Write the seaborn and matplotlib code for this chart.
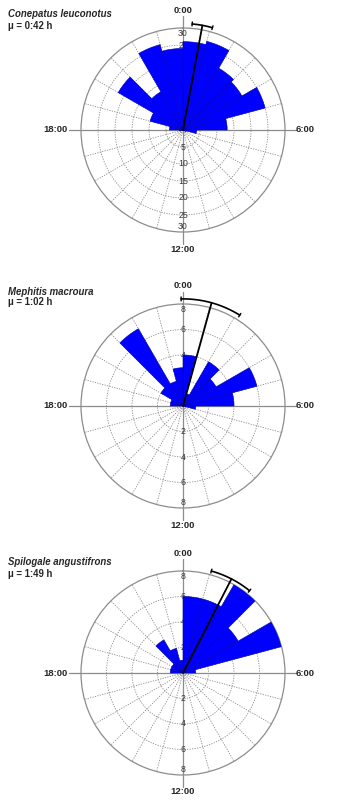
import numpy as np
import pandas as pd
import matplotlib
matplotlib.use('Agg')
import matplotlib.pyplot as plt
import seaborn as sns

# hourly record counts, bins 0:00-1:00 ... 23:00-24:00
hours = np.arange(24)
conepatus = [26, 27, 21, 20, 25, 13, 4, 1, 0, 0, 0, 0, 0, 0, 0, 0, 0, 1, 4, 10, 22, 13, 26, 24]
mephitis = [4, 1, 4, 3, 6, 4, 1, 0, 0, 0, 0, 0, 0, 0, 0, 0, 0, 0, 1, 1, 2, 7, 2, 3]
spilogale = [6, 6, 8, 5, 8, 1, 0, 0, 0, 0, 0, 0, 0, 0, 0, 0, 0, 0, 1, 1, 1, 3, 2, 1]

species = ['Conepatus leuconotus', 'Mephitis macroura', 'Spilogale angustifrons']
mean_labels = ['0:42', '1:02', '1:49']
mean_hours = [0.70, 1.033, 1.817]
ci_half = [0.37, 1.10, 0.78]        # hours
ci_radius = [31.3, 8.4, 8.3]
r_max = [30, 8, 8]
r_ticks = [[5, 10, 15, 20, 25, 30], [2, 4, 6, 8], [2, 4, 6, 8]]
hour_labels = ['0:00', '6:00', '12:00', '18:00']

sns.set_style('white')
plt.rcParams['font.family'] = ['Liberation Sans', 'DejaVu Sans']

W, H = 342, 801
centers_y = [130, 406, 673]
cx, rad = 183, 102
title_y = [14, 292, 562]
mu_y = [26, 302, 574]

fig = plt.figure(figsize=(W / 100, H / 100), dpi=100)
grey = '#8c8c8c'

for i, counts in enumerate([conepatus, mephitis, spilogale]):
    cy = centers_y[i]
    ax = fig.add_axes([(cx - rad) / W, (H - cy - rad) / H, 2 * rad / W, 2 * rad / H],
                      projection='polar')
    ax.set_theta_zero_location('N')
    ax.set_theta_direction(-1)

    df = pd.DataFrame({'theta': np.deg2rad((hours + 0.5) * 15), 'n': counts})
    sns.barplot(data=df, x='theta', y='n', ax=ax, native_scale=True, orient='x',
                errorbar=None, color='#0000ff', saturation=1, width=1,
                edgecolor='#0000b0', linewidth=0.4, zorder=3)

    rm = r_max[i]
    ax.set_ylim(0, rm)
    ax.set_xlim(0, 2 * np.pi)
    ax.grid(False)
    ax.set_xticks([])
    ax.set_yticks([])
    ax.set_xlabel('')
    ax.set_ylabel('')
    ax.spines['polar'].set_color(grey)
    ax.spines['polar'].set_linewidth(0.9)

    # dotted grid
    tt = np.linspace(0, 2 * np.pi, 200)
    for r in r_ticks[i][:-1]:
        ax.plot(tt, np.full_like(tt, r), color=grey, lw=0.6, ls=(0, (1.5, 1.5)), zorder=1)
    for a in range(0, 360, 15):
        if a % 90 == 0:
            continue
        ax.plot([np.deg2rad(a)] * 2, [0, rm], color=grey, lw=0.6, ls=(0, (1.5, 1.5)), zorder=1)
    # solid cross axes
    for a in [0, 90, 180, 270]:
        ax.plot([np.deg2rad(a)] * 2, [0, rm * 1.12], color=grey, lw=0.9, zorder=1.5,
                clip_on=False)

    # radial tick labels on the vertical axis
    for r in r_ticks[i]:
        rr = r * 0.95 if r == rm else r
        for th in [0, np.pi]:
            ax.text(th, rr, str(r), ha='center', va='center', fontsize=6.3,
                    color='#3a3a3a', zorder=2)

    # mean direction and confidence arc
    m = np.deg2rad(mean_hours[i] * 15)
    rc = ci_radius[i]
    ax.plot([m, m], [0, rc], color='black', lw=1.3, zorder=5, clip_on=False)
    lo = np.deg2rad((mean_hours[i] - ci_half[i]) * 15)
    hi = np.deg2rad((mean_hours[i] + ci_half[i]) * 15)
    arc = np.linspace(lo, hi, 60)
    ax.plot(arc, np.full_like(arc, rc), color='black', lw=1.2, zorder=5, clip_on=False)
    cap = 2.0 / (rad / rm)
    for e in [lo, hi]:
        ax.plot([e, e], [rc - cap, rc + cap], color='black', lw=1.0, zorder=5, clip_on=False)

    # hour labels
    kw = dict(transform=ax.transAxes, fontsize=6.8, fontweight='bold', clip_on=False)
    ax.text(0.5, 0.5 + 120 / (2 * rad), hour_labels[0], ha='center', va='center', **kw)
    ax.text(0.5 + 113 / (2 * rad), 0.5, hour_labels[1], ha='left', va='center', **kw)
    ax.text(0.5, 0.5 - 119 / (2 * rad), hour_labels[2], ha='center', va='center', **kw)
    ax.text(0.5 - 115 / (2 * rad), 0.5, hour_labels[3], ha='right', va='center', **kw)

    fig.text(8 / W, 1 - title_y[i] / H, species[i], fontsize=6.9, fontweight='bold',
             fontstyle='italic', ha='left', va='center')
    fig.text(8 / W, 1 - mu_y[i] / H, '\u03bc = ' + mean_labels[i] + ' h', fontsize=6.9,
             fontweight='bold', ha='left', va='center')

fig.savefig('out.png', dpi=100, facecolor='white')
